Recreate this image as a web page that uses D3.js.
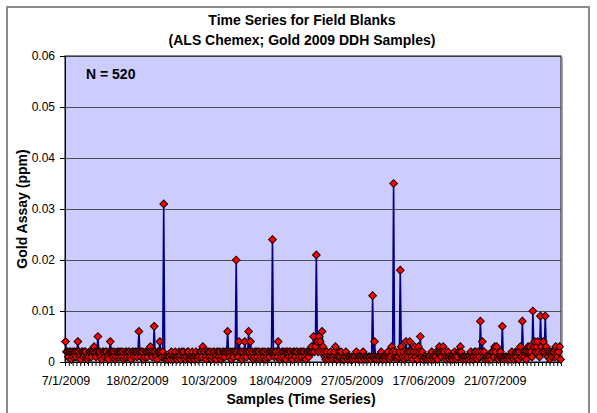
<!DOCTYPE html>
<html><head><meta charset="utf-8">
<script src="https://cdn.jsdelivr.net/npm/d3@7"></script>
<style>
html,body{margin:0;padding:0;background:#fff;}
svg{display:block;font-family:Arial,"Liberation Sans",sans-serif;}
</style></head>
<body>
<svg id="chart" width="597" height="413"></svg>
<script>
// ---- data ----
const titleLines = ["Time Series for Field Blanks", "(ALS Chemex; Gold 2009 DDH Samples)"];
const xAxisTitle = "Samples (Time Series)";
const yAxisTitle = "Gold Assay (ppm)";
const noteText = "N = 520";
const yTicks = [0, 0.01, 0.02, 0.03, 0.04, 0.05, 0.06];
const yTickLabels = ["0", "0.01", "0.02", "0.03", "0.04", "0.05", "0.06"];
const xTickLabels = ["7/1/2009", "18/02/2009", "10/3/2009", "18/04/2009", "27/05/2009", "17/06/2009", "21/07/2009"];
const labelInterval = 75;   // samples between date labels
const tickInterval = 4;     // samples between tick marks
// gold assay (ppm) for the 520 field blanks, in sample order
const goldPpm = [
0.004,0.002,0.002,0.001,0.002,0.002,0.0005,0.002,0.001,0.002,0.002,0.001,0.002,0.004,0.002,0.001,0.0005,0.002,0.002,0.001,
0.002,0.002,0.001,0.0005,0.001,0.002,0.002,0.001,0.002,0.002,0.003,0.002,0.001,0.002,0.005,0.002,0.002,0.001,0.0005,0.002,
0.002,0.001,0.002,0.002,0.001,0.0005,0.002,0.004,0.002,0.002,0.001,0.002,0.0005,0.001,0.002,0.002,0.001,0.002,0.002,0.001,
0.002,0.0005,0.001,0.002,0.002,0.001,0.002,0.002,0.001,0.0005,0.002,0.002,0.001,0.002,0.002,0.001,0.002,0.006,0.002,0.001,
0.002,0.002,0.0005,0.001,0.002,0.002,0.001,0.002,0.002,0.003,0.002,0.001,0.002,0.007,0.002,0.001,0.0005,0.002,0.002,0.004,
0.002,0.001,0.002,0.031,0.001,0.0005,0.001,0.0005,0.001,0.001,0.0005,0.002,0.001,0.0005,0.001,0.002,0.001,0.0005,0.001,0.002,
0.001,0.0005,0.002,0.001,0.002,0.001,0.0005,0.001,0.002,0.002,0.001,0.0005,0.001,0.002,0.001,0.0005,0.001,0.002,0.001,0.0005,
0.001,0.002,0.002,0.001,0.003,0.002,0.002,0.001,0.0005,0.002,0.002,0.001,0.002,0.0005,0.001,0.002,0.002,0.001,0.0005,0.002,
0.002,0.001,0.002,0.0005,0.001,0.002,0.002,0.001,0.002,0.002,0.006,0.002,0.001,0.002,0.0005,0.002,0.001,0.002,0.002,0.020,
0.002,0.001,0.004,0.002,0.002,0.0005,0.002,0.001,0.004,0.002,0.001,0.002,0.006,0.002,0.004,0.001,0.002,0.0005,0.001,0.002,
0.002,0.001,0.002,0.002,0.0005,0.001,0.002,0.002,0.001,0.002,0.0005,0.001,0.002,0.002,0.001,0.002,0.002,0.024,0.002,0.001,
0.002,0.002,0.001,0.004,0.002,0.0005,0.001,0.002,0.002,0.001,0.002,0.0005,0.002,0.002,0.001,0.002,0.002,0.001,0.0005,0.002,
0.002,0.001,0.002,0.002,0.0005,0.001,0.002,0.002,0.001,0.002,0.002,0.001,0.0005,0.002,0.002,0.001,0.002,0.002,0.003,0.002,
0.005,0.002,0.003,0.021,0.004,0.002,0.005,0.004,0.002,0.006,0.003,0.002,0.001,0.0005,0.002,0.001,0.0005,0.001,0.002,0.001,
0.0005,0.001,0.002,0.003,0.001,0.0005,0.001,0.002,0.001,0.002,0.0005,0.001,0.0005,0.001,0.002,0.001,0.0005,0.001,0.001,0.0005,
0.001,0.0005,0.001,0.001,0.0005,0.002,0.001,0.0005,0.001,0.001,0.0005,0.001,0.002,0.001,0.0005,0.001,0.001,0.0005,0.001,0.001,
0.0005,0.001,0.013,0.001,0.004,0.001,0.0005,0.001,0.001,0.0005,0.001,0.002,0.001,0.0005,0.001,0.001,0.0005,0.001,0.002,0.001,
0.0005,0.001,0.003,0.002,0.035,0.001,0.002,0.001,0.0005,0.001,0.002,0.018,0.003,0.001,0.002,0.0005,0.001,0.004,0.002,0.001,
0.002,0.004,0.002,0.001,0.0005,0.002,0.003,0.001,0.002,0.0005,0.003,0.002,0.005,0.001,0.002,0.0005,0.001,0.001,0.0005,0.001,
0.0005,0.001,0.001,0.0005,0.002,0.001,0.0005,0.001,0.001,0.002,0.0005,0.002,0.003,0.002,0.001,0.002,0.003,0.002,0.001,0.0005,
0.001,0.002,0.001,0.0005,0.001,0.001,0.0005,0.001,0.002,0.001,0.0005,0.001,0.002,0.002,0.003,0.002,0.001,0.0005,0.001,0.001,
0.0005,0.001,0.001,0.0005,0.001,0.002,0.001,0.0005,0.001,0.002,0.002,0.001,0.0005,0.002,0.001,0.008,0.002,0.004,0.001,0.002,
0.0005,0.001,0.001,0.0005,0.001,0.001,0.0005,0.002,0.002,0.001,0.003,0.002,0.003,0.001,0.0005,0.001,0.002,0.001,0.007,0.001,
0.0005,0.001,0.001,0.0005,0.001,0.001,0.0005,0.001,0.002,0.001,0.0005,0.001,0.002,0.001,0.002,0.0005,0.002,0.003,0.001,0.008,
0.002,0.001,0.002,0.0005,0.002,0.003,0.002,0.003,0.002,0.001,0.010,0.003,0.004,0.002,0.003,0.004,0.002,0.001,0.009,0.003,
0.002,0.004,0.002,0.009,0.003,0.002,0.001,0.002,0.0005,0.002,0.001,0.002,0.002,0.001,0.003,0.002,0.001,0.002,0.003,0.0005
];

// ---- layout ----
const svg = d3.select("#chart");
const plot = {left: 65, right: 561, top: 56, bottom: 362};

// chart border
svg.append("rect").attr("x", 7).attr("y", 7).attr("width", 582).attr("height", 420)
  .attr("fill", "#fff").attr("stroke", "#8c8c8c").attr("stroke-width", 2);

const x = d3.scaleLinear().domain([0, goldPpm.length]).range([plot.left, plot.right]);
const y = d3.scaleLinear().domain([0, 0.06]).range([plot.bottom, plot.top]);

// plot background
svg.append("rect").attr("x", plot.left).attr("y", plot.top)
  .attr("width", plot.right - plot.left).attr("height", plot.bottom - plot.top)
  .attr("fill", "#ccccff");

// gridlines
svg.append("g").selectAll("line").data(yTicks.filter(v => v > 0)).join("line")
  .attr("x1", plot.left).attr("x2", plot.right)
  .attr("y1", d => Math.round(y(d)) + 0.5).attr("y2", d => Math.round(y(d)) + 0.5)
  .attr("stroke", "#4d4d4d").attr("stroke-width", 1);

// plot frame
svg.append("rect").attr("x", plot.left).attr("y", plot.top)
  .attr("width", plot.right - plot.left).attr("height", plot.bottom - plot.top)
  .attr("fill", "none").attr("stroke", "#333").attr("stroke-width", 1.2);
svg.append("line").attr("x1", plot.right + 1.5).attr("x2", plot.right + 1.5)
  .attr("y1", plot.top + 1).attr("y2", plot.bottom).attr("stroke", "#aaa").attr("stroke-width", 1);

// y axis
const yAxis = d3.axisLeft(y).tickValues(yTicks).tickFormat((d, i) => yTickLabels[i]).tickSize(5).tickPadding(5);
const gy = svg.append("g").attr("transform", `translate(${plot.left},0)`).call(yAxis);
gy.select(".domain").attr("stroke", "#000");
gy.selectAll(".tick line").attr("stroke", "#000");
gy.selectAll("text").attr("font-size", 12).attr("fill", "#000").attr("font-family", "Arial, 'Liberation Sans', sans-serif");

// x axis tick marks
const tickVals = d3.range(0, goldPpm.length + 1, tickInterval);
const xAxisTicks = d3.axisBottom(x).tickValues(tickVals).tickFormat("").tickSize(4).tickSizeOuter(0);
const gx = svg.append("g").attr("transform", `translate(0,${plot.bottom})`).call(xAxisTicks);
gx.select(".domain").attr("stroke", "#000");
gx.selectAll(".tick line").attr("stroke", "#000");

// x axis date labels (at sample centres)
const labelPos = xTickLabels.map((_, i) => i * labelInterval + 0.5);
const xAxisLabels = d3.axisBottom(x).tickValues(labelPos).tickFormat((d, i) => xTickLabels[i]).tickSize(0).tickPadding(14);
const gxl = svg.append("g").attr("transform", `translate(0,${plot.bottom})`).call(xAxisLabels);
gxl.select(".domain").remove();
gxl.selectAll("text").attr("font-size", 12.5).attr("fill", "#000").attr("font-family", "Arial, 'Liberation Sans', sans-serif");

// series line
const line = d3.line().x((d, i) => x(i + 0.5)).y(d => y(d));
svg.append("path").datum(goldPpm).attr("d", line)
  .attr("fill", "none").attr("stroke", "#000080").attr("stroke-width", 1.6);

// markers
const diamond = d3.symbol().type(d3.symbolSquare).size(30);
svg.append("g").selectAll("path").data(goldPpm).join("path")
  .attr("d", diamond)
  .attr("transform", (d, i) => `translate(${x(i + 0.5)},${y(d)}) rotate(45)`)
  .attr("fill", "#ff0000").attr("stroke", "#1a0000").attr("stroke-width", 1);

// titles
svg.append("g").selectAll("text").data(titleLines).join("text")
  .attr("x", 302).attr("y", (d, i) => 25 + i * 20)
  .attr("text-anchor", "middle").attr("font-size", 14).attr("font-weight", "bold").text(d => d);

svg.append("text").attr("x", 301).attr("y", 404).attr("text-anchor", "middle")
  .attr("font-size", 14).attr("font-weight", "bold").text(xAxisTitle);

svg.append("text").attr("transform", `translate(27,${(plot.top + plot.bottom) / 2}) rotate(-90)`)
  .attr("text-anchor", "middle").attr("font-size", 14).attr("font-weight", "bold").text(yAxisTitle);

svg.append("text").attr("x", 86).attr("y", 79).attr("font-size", 14).attr("font-weight", "bold").text(noteText);
</script>
</body></html>
